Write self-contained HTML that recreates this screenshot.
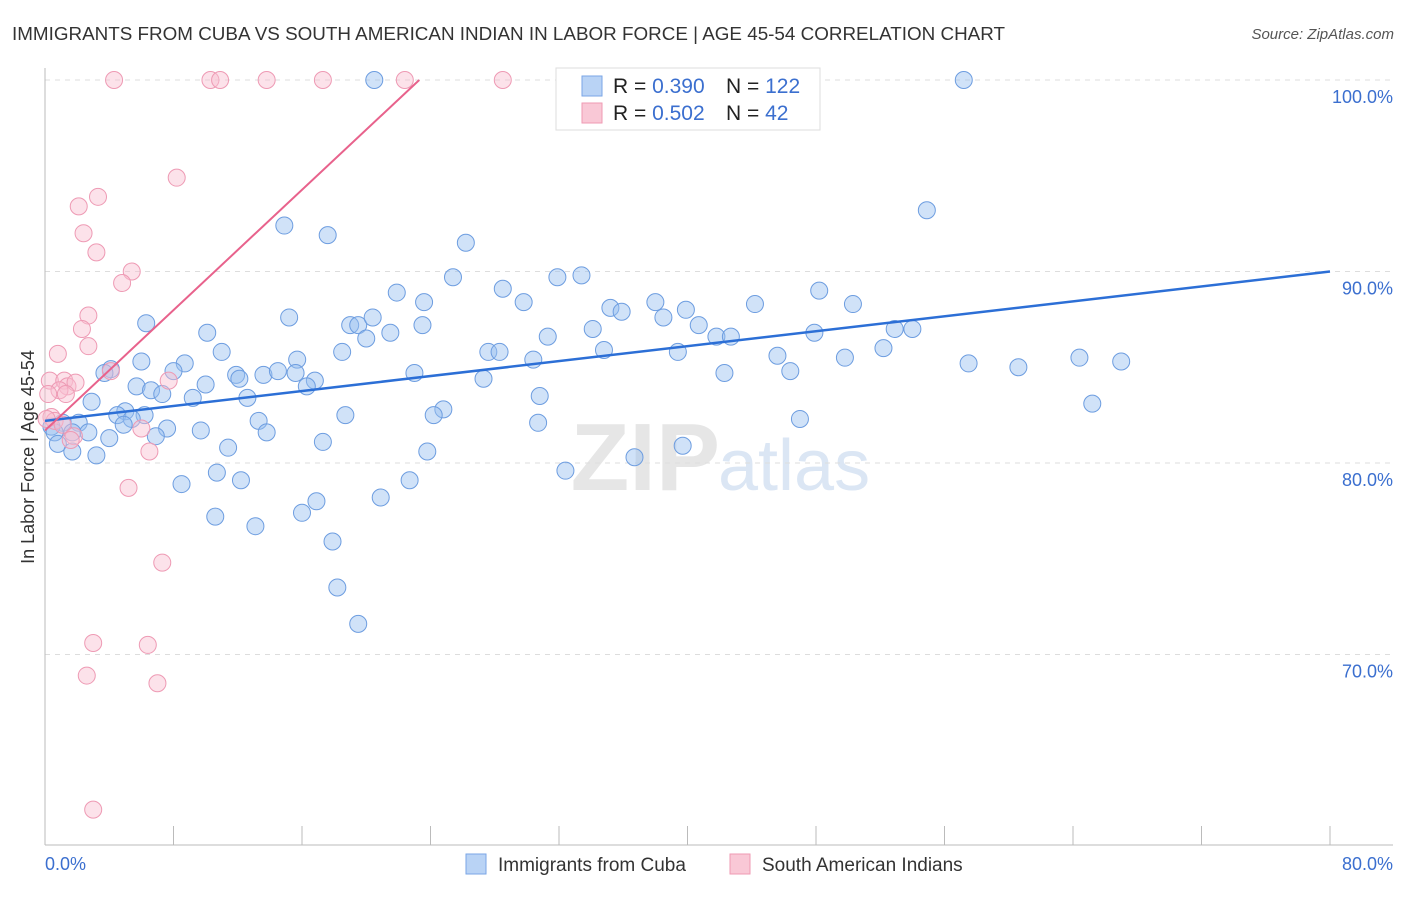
<!DOCTYPE html>
<html><head><meta charset="utf-8"><style>
body{margin:0;background:#fff;font-family:"Liberation Sans",sans-serif}
svg text{font-family:"Liberation Sans",sans-serif}
</style></head><body>
<svg id="c" width="1406" height="892">
<text x="12" y="40" font-size="18" fill="#333" textLength="993" lengthAdjust="spacingAndGlyphs">IMMIGRANTS FROM CUBA VS SOUTH AMERICAN INDIAN IN LABOR FORCE | AGE 45-54 CORRELATION CHART</text>
<text x="1394" y="39" font-size="15" fill="#555" font-style="italic" text-anchor="end">Source: ZipAtlas.com</text>
<text x="720" y="490" font-size="96" fill="#e6e6e6" text-anchor="end" font-family="Liberation Serif" font-weight="bold">ZIP</text>
<text x="718" y="490" font-size="72" fill="#dbe6f4">atlas</text>
<g id="grid"></g><g id="axes"></g><g id="pts"></g><g id="trend"></g>
<text transform="translate(34,457) rotate(-90)" font-size="18" fill="#333" text-anchor="middle">In Labor Force | Age 45-54</text>
<text x="45" y="870" font-size="18" fill="#3b6fcf">0.0%</text>
<text x="1393" y="870" font-size="18" fill="#3b6fcf" text-anchor="end">80.0%</text>
<g>
<rect x="556" y="68" width="264" height="62" fill="#fff" stroke="#ddd"/>
<rect x="582" y="76" width="20" height="20" fill="#b9d3f5" stroke="#7aa6e6"/>
<rect x="582" y="103" width="20" height="20" fill="#f9c8d6" stroke="#ef9ab3"/>
<text x="613" y="93" font-size="21" fill="#222">R = <tspan fill="#3b6fcf">0.390</tspan></text>
<text x="726" y="93" font-size="21" fill="#222">N = <tspan fill="#3b6fcf">122</tspan></text>
<text x="613" y="120" font-size="21" fill="#222">R = <tspan fill="#3b6fcf">0.502</tspan></text>
<text x="726" y="120" font-size="21" fill="#222">N = <tspan fill="#3b6fcf"> 42</tspan></text>
</g>
<g>
<rect x="466" y="854" width="20" height="20" fill="#b9d3f5" stroke="#7aa6e6"/>
<text x="498" y="871" font-size="19" fill="#333">Immigrants from Cuba</text></g>
<g>
<rect x="730" y="854" width="20" height="20" fill="#f9c8d6" stroke="#ef9ab3"/>
<text x="762" y="871" font-size="19" fill="#333">South American Indians</text></g>
</svg>
<script>
const yTicks=[100,90,80,70];
const yTickLabels=["100.0%","90.0%","80.0%","70.0%"];
const xTicks=[0,8,16,24,32,40,48,56,64,72,80];
const cubaX=[20.5,57.2,54.9,14.9,17.6,26.2,33.4,31.9,25.4,21.9,28.5,48.2,23.6,29.8,38.0,50.3,44.2,35.2,39.9,35.9,15.2,38.5,6.3,19.0,19.5,20.4,23.5,40.7,52.9,54.0,34.1,10.1,21.5,31.3,20.0,41.8,42.7,47.9,52.2,27.6,28.3,11.0,18.5,34.8,39.4,15.7,30.4,49.8,45.6,6.0,8.7,64.4,67.0,57.5,60.6,8.0,4.1,3.7,11.9,13.6,14.5,15.6,23.0,42.3,46.4,27.3,12.1,16.8,16.3,10.0,5.7,6.6,7.3,9.2,12.6,30.8,2.9,65.2,24.8,5.0,4.5,24.2,6.2,5.4,13.3,18.7,47.0,30.7,4.9,2.1,1.1,0.4,7.6,9.7,13.8,2.7,0.6,1.7,4.0,6.9,17.3,39.7,0.8,1.7,3.2,11.4,23.8,36.7,10.7,32.4,8.5,12.2,22.7,20.9,16.9,16.0,10.6,13.1,17.9,18.2,19.5];
const cubaY=[100,100,93.2,92.4,91.9,91.5,89.8,89.7,89.7,88.9,89.1,89.0,88.4,88.4,88.4,88.3,88.3,88.1,88.0,87.9,87.6,87.6,87.3,87.2,87.2,87.6,87.2,87.2,87.0,87.0,87.0,86.8,86.8,86.6,86.5,86.6,86.6,86.8,86.0,85.8,85.8,85.8,85.8,85.9,85.8,85.4,85.4,85.5,85.6,85.3,85.2,85.5,85.3,85.2,85.0,84.8,84.9,84.7,84.6,84.6,84.8,84.7,84.7,84.7,84.8,84.4,84.4,84.3,84.0,84.1,84.0,83.8,83.6,83.4,83.4,83.5,83.2,83.1,82.8,82.7,82.5,82.5,82.5,82.3,82.2,82.5,82.3,82.1,82.0,82.1,82.1,81.9,81.8,81.7,81.6,81.6,81.6,81.6,81.3,81.4,81.1,80.9,81.0,80.6,80.4,80.8,80.6,80.3,79.5,79.6,78.9,79.1,79.1,78.2,78.0,77.4,77.2,76.7,75.9,73.5,71.6];
const sainX=[4.3,10.3,10.9,13.8,17.3,22.4,28.5,8.2,3.3,2.1,2.4,3.2,5.4,4.8,2.7,2.3,2.7,0.8,0.3,1.2,1.4,1.9,0.9,0.2,1.3,7.7,4.1,0.4,0.6,1.1,1.8,6.0,6.5,5.2,7.3,3.0,6.4,2.6,7.0,3.0,0.1,1.6];
const sainY=[100,100,100,100,100,100,100,94.9,93.9,93.4,92.0,91.0,90.0,89.4,87.7,87.0,86.1,85.7,84.3,84.3,84.0,84.2,83.8,83.6,83.6,84.3,84.8,82.4,82.2,82.0,81.4,81.8,80.6,78.7,74.8,70.6,70.5,68.9,68.5,61.9,82.3,81.2];
const cubaTrend=[[0,82.2],[80,90.0]];
const sainTrend=[[0,81.7],[23.3,100]];
const NS="http://www.w3.org/2000/svg";
const X=v=>45+v*1285/80, Y=v=>80+(100-v)*19.15;
function mk(tag,attrs,parent){const e=document.createElementNS(NS,tag);for(const k in attrs)e.setAttribute(k,attrs[k]);document.getElementById(parent).appendChild(e);return e;}
yTicks.forEach((t,i)=>{
 const l=mk('line',{x1:45,x2:1392,y1:Y(t),y2:Y(t),stroke:'#ddd','stroke-dasharray':'5,5'},'grid');
 
 
 const tx=mk('text',{x:1393,y:Y(t)+23,'font-size':18,fill:'#3b6fcf','text-anchor':'end'},'grid');
 tx.textContent=yTickLabels[i];
 
 
});
const ax=mk('line',{x1:45,x2:45,y1:68,y2:845,stroke:'#bbb'},'axes');


const bx=mk('line',{x1:45,x2:1393,y1:845,y2:845,stroke:'#bbb'},'axes');


xTicks.forEach(t=>{
 const l=mk('line',{x1:X(t),x2:X(t),y1:826,y2:845,stroke:'#bbb'},'axes');
 
 
});
cubaX.forEach((v,i)=>{
 const c=mk('circle',{cx:X(v),cy:Y(cubaY[i]),r:8.5,fill:'rgba(150,190,240,0.45)',stroke:'#6d9de0','stroke-width':1},'pts');
 
 
});
sainX.forEach((v,i)=>{
 const c=mk('circle',{cx:X(v),cy:Y(sainY[i]),r:8.5,fill:'rgba(248,190,208,0.45)',stroke:'#ee9ab4','stroke-width':1},'pts');
 
 
});
const t1=mk('line',{x1:X(cubaTrend[0][0]),y1:Y(cubaTrend[0][1]),x2:X(cubaTrend[1][0]),y2:Y(cubaTrend[1][1]),stroke:'#2c6fd6','stroke-width':2.5},'trend');


const t2=mk('line',{x1:X(sainTrend[0][0]),y1:Y(sainTrend[0][1]),x2:X(sainTrend[1][0]),y2:Y(sainTrend[1][1]),stroke:'#e8628c','stroke-width':2},'trend');


</script>
</body></html>
